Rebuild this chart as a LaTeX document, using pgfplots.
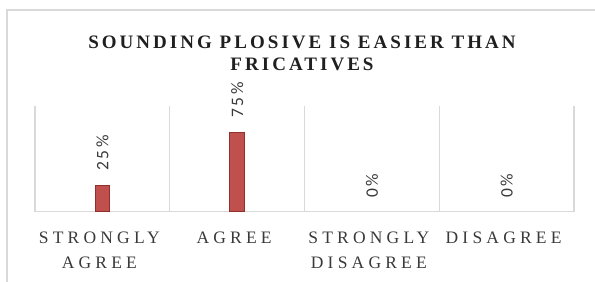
\documentclass[border=0pt]{standalone}
\usepackage{fontspec}
\setmainfont{Liberation Serif}
\newfontfamily\titlefont[LetterSpace=16]{Liberation Serif}
\newfontfamily\catfont[LetterSpace=24]{Liberation Serif}
\newfontfamily\valfont[LetterSpace=15]{Carlito}
\usepackage{pgfplots}
\pgfplotsset{compat=1.18}
\definecolor{barfill}{HTML}{C0504D}
\definecolor{barline}{HTML}{922E2B}
\definecolor{gridc}{HTML}{D9D9D9}
\definecolor{txt}{HTML}{3A3A3A}
\definecolor{ttl}{HTML}{1F1F1F}
\begin{document}
\begin{tikzpicture}
\useasboundingbox (0,0) rectangle (595bp,-282bp);
\draw[gridc, line width=1.3bp] (7bp,-282bp) -- (7bp,-10bp) -- (595bp,-10bp);
\node[anchor=base, inner sep=0pt, text=ttl, font=\titlefont\bfseries\fontsize{19bp}{22bp}\selectfont] at (302bp,-48bp) {SOUNDING PLOSIVE IS EASIER THAN};
\node[anchor=base, inner sep=0pt, text=ttl, font=\titlefont\bfseries\fontsize{19bp}{22bp}\selectfont] at (302bp,-70bp) {FRICATIVES};
\begin{axis}[
  at={(35bp,-211.7bp)}, anchor=south west,
  scale only axis, width=539bp, height=105.7bp,
  xmin=0.5, xmax=4.5, ymin=0, ymax=100,
  axis x line*=bottom, axis y line=none,
  x axis line style={draw=gridc, line width=1.3bp},
  xtick={1,2,3,4},
  xticklabels={{STRONGLY\\AGREE},{AGREE},{STRONGLY\\DISAGREE},{DISAGREE}},
  major tick length=0pt, minor tick length=0pt,
  minor xtick={0.5,1.5,2.5,3.5,4.5},
  xminorgrids,
  minor grid style={draw=gridc, line width=1.3bp},
  ytick=\empty,
  xticklabel style={font=\catfont\fontsize{17.5bp}{25bp}\selectfont, align=center, text=txt, anchor=north, inner sep=0pt, yshift=-20bp, xshift=-3bp},
  ybar, bar width=14.5bp, bar shift=0pt,
  nodes near coords={\pgfmathprintnumber[assume math mode=true]{\pgfplotspointmeta}\%},
  every node near coord/.append style={rotate=90, anchor=west, inner xsep=14bp, inner ysep=0pt, font=\valfont\fontsize{17.5bp}{20bp}\selectfont, text=txt},
  clip=false,
]
\addplot[fill=barfill, draw=barline, line width=1bp] coordinates {(1,25) (2,75)};
\addplot[draw=none, fill=none] coordinates {(3,0) (4,0)};
\end{axis}
\end{tikzpicture}
\end{document}
